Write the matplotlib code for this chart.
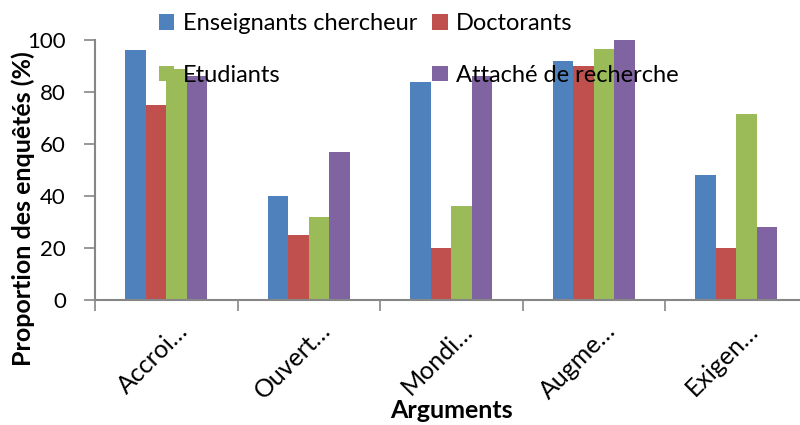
import numpy as np
import matplotlib
matplotlib.use('Agg')
import matplotlib.pyplot as plt
from matplotlib.transforms import ScaledTranslation

plt.rcParams['font.family'] = ['Lato', 'DejaVu Sans']

# données
categories = ['Accroi…', 'Ouvert…', 'Mondi…', 'Augme…', 'Exigen…']
series = ['Enseignants chercheur', 'Doctorants', 'Etudiants', 'Attaché de recherche']
enseignants = [96, 40, 84, 92, 48]
doctorants = [75, 25, 20, 90, 20]
etudiants = [89, 32, 36, 96.5, 71.4]
attaches = [86, 57, 86, 100, 28]
couleurs = ['#4F81BD', '#C0504D', '#9BBB59', '#8064A2']

valeurs = [enseignants, doctorants, etudiants, attaches]

fig = plt.figure(figsize=(8, 4.25), dpi=100)
ax = fig.add_axes([95/800, 125/425, 712.5/800, 260/425])

x = np.arange(len(categories))
w = 0.143
barres = []
for i, (nom, v) in enumerate(zip(series, valeurs)):
    b = ax.bar(x + (i - 1.5) * w, v, w, color=couleurs[i], label=nom)
    barres.append(b)

ax.set_xlim(-0.5, 4.5)
ax.set_ylim(0, 100)
ax.set_yticks([0, 20, 40, 60, 80, 100])
ax.tick_params(axis='y', labelsize=16, length=8, color='#868686', width=1.2, pad=13)

# ticks aux frontières des catégories
ax.set_xticks(x)
ax.set_xticklabels(categories, rotation=45, ha='right', va='center',
                   rotation_mode='anchor', fontsize=18)
ax.tick_params(axis='x', which='major', length=0)
ax.set_xticks(np.arange(-0.5, 4.5, 1), minor=True)
ax.tick_params(axis='x', which='minor', length=8, color='#868686', width=1.2)
decal = ScaledTranslation(18/100, -22/100, fig.dpi_scale_trans)
for lab in ax.get_xticklabels():
    lab.set_transform(lab.get_transform() + decal)

for s in ['top', 'right']:
    ax.spines[s].set_visible(False)
for s in ['left', 'bottom']:
    ax.spines[s].set_color('#868686')
    ax.spines[s].set_linewidth(1.5)

fig.text(23/800, 1 - 209/425, 'Proportion des enquêtés (%)', rotation=90,
         ha='center', va='center', fontsize=18, fontweight='bold')
fig.text(451/800, 1 - 410/425, 'Arguments', ha='center', va='center',
         fontsize=18, fontweight='bold')

# légende sur deux lignes
ordre = [0, 2, 1, 3]
leg = fig.legend([barres[i] for i in ordre], [series[i] for i in ordre],
                 ncol=2, loc='upper left', bbox_to_anchor=(159/800, 1 - 13/425),
                 frameon=False, fontsize=17, handlelength=0.65, handleheight=0.65,
                 handletextpad=0.35, labelspacing=1.3, columnspacing=0.65,
                 borderpad=0, borderaxespad=0)

fig.savefig('out.png', dpi=100)
